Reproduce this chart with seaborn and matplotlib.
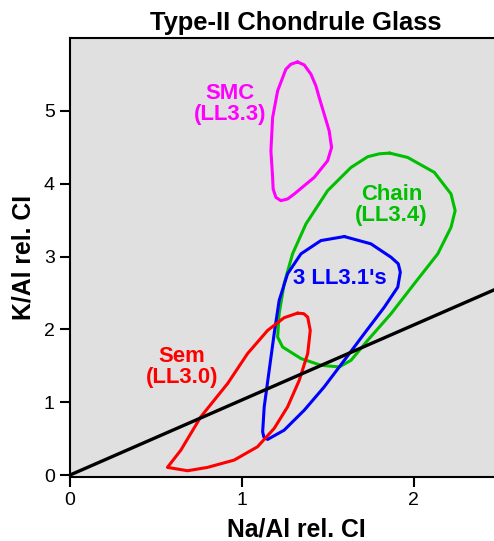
import matplotlib
matplotlib.use("Agg")
import matplotlib.pyplot as plt
import pandas as pd
import seaborn as sns

# --------------------------------------------------------------------------- #
# Data
# --------------------------------------------------------------------------- #
smc_x = [1.324, 1.363, 1.402, 1.431, 1.450, 1.479, 1.508, 1.522, 1.499, 1.421,
         1.305, 1.266, 1.227, 1.198, 1.182, 1.179, 1.169, 1.179, 1.208, 1.256,
         1.285, 1.324]
smc_y = [5.671, 5.630, 5.503, 5.342, 5.182, 4.955, 4.726, 4.497, 4.315, 4.086,
         3.859, 3.790, 3.767, 3.812, 3.927, 4.086, 4.452, 4.908, 5.274, 5.571,
         5.640, 5.671]

chain_x = [1.860, 1.965, 2.120, 2.217, 2.241, 2.217, 2.140, 2.003, 1.868, 1.732,
           1.635, 1.567, 1.460, 1.344, 1.237, 1.208, 1.217, 1.246, 1.295, 1.373,
           1.499, 1.635, 1.732, 1.800, 1.860]
chain_y = [4.420, 4.360, 4.155, 3.859, 3.630, 3.401, 3.037, 2.626, 2.215, 1.849,
           1.575, 1.484, 1.507, 1.599, 1.758, 1.895, 2.215, 2.626, 3.037, 3.448,
           3.904, 4.223, 4.370, 4.410, 4.420]

ll31_x = [1.596, 1.751, 1.868, 1.910, 1.922, 1.907, 1.829, 1.712, 1.596, 1.479,
          1.363, 1.246, 1.150, 1.128, 1.121, 1.130, 1.159, 1.188, 1.217, 1.266,
          1.344, 1.460, 1.596]
ll31_y = [3.274, 3.174, 2.990, 2.900, 2.785, 2.579, 2.305, 1.941, 1.575, 1.210,
          0.890, 0.616, 0.489, 0.520, 0.593, 0.936, 1.438, 1.941, 2.397, 2.763,
          3.037, 3.219, 3.274]

sem_x = [1.324, 1.360, 1.383, 1.398, 1.383, 1.334, 1.266, 1.188, 1.091, 0.955,
         0.800, 0.684, 0.567, 0.645, 0.761, 0.917, 1.033, 1.150, 1.246, 1.324]
sem_y = [2.223, 2.215, 2.168, 1.986, 1.667, 1.301, 0.936, 0.640, 0.388, 0.205,
         0.105, 0.059, 0.105, 0.342, 0.799, 1.256, 1.667, 1.986, 2.160, 2.223]

# reference line through the origin
ref_x = [0.0, 2.65]
ref_y = [0.0, 2.73]

groups = ["SMC\n(LL3.3)", "Chain\n(LL3.4)", "3 LL3.1's", "Sem\n(LL3.0)"]
label_x = [0.93, 1.871, 1.570, 0.650]
label_y = [5.09, 3.71, 2.695, 1.49]
colors = ["#ff00ff", "#00bf00", "#0000ff", "#ff0000"]

# --------------------------------------------------------------------------- #
# Style
# --------------------------------------------------------------------------- #
sns.set_theme(style="ticks")
plt.rcParams.update(
    {
        "font.family": ["Liberation Sans", "DejaVu Sans"],
        "text.color": "black",
        "axes.labelcolor": "black",
        "axes.titlecolor": "black",
        "axes.linewidth": 1.5,
        "xtick.major.width": 1.5,
        "ytick.major.width": 1.5,
        "xtick.major.size": 7.5,
        "ytick.major.size": 7.5,
        "xtick.labelsize": 14,
        "ytick.labelsize": 14,
        "xtick.color": "black",
        "ytick.color": "black",
        "axes.edgecolor": "black",
    }
)

fig = plt.figure(figsize=(4.94, 5.41), dpi=100)
ax = fig.add_axes([70 / 494, 1 - 477 / 541, 452 / 494, 439 / 541])
ax.set_facecolor("#e0e0e0")

contours = [(smc_x, smc_y), (chain_x, chain_y), (ll31_x, ll31_y), (sem_x, sem_y)]
for (cx, cy), col in zip(contours, colors):
    df = pd.DataFrame({"x": cx, "y": cy})
    sns.lineplot(data=df, x="x", y="y", sort=False, estimator=None, color=col,
                 lw=2.2, ax=ax, solid_joinstyle="round", solid_capstyle="round")

sns.lineplot(x=ref_x, y=ref_y, color="black", lw=2.4, ax=ax)

for name, lx, ly, col in zip(groups, label_x, label_y, colors):
    ax.text(lx, ly, name, color=col, fontsize=15.9, fontweight="bold",
            ha="center", va="center", linespacing=1.0)

ax.set_xlim(0, 2.63)
ax.set_ylim(-0.027, 6.0)
ax.set_xticks([0, 1, 2])
ax.set_yticks([0, 1, 2, 3, 4, 5])
ax.spines["right"].set_visible(False)
ax.set_xlabel("Na/Al rel. CI", fontsize=17.8, fontweight="bold", labelpad=6)
ax.set_ylabel("K/Al rel. CI", fontsize=17.8, fontweight="bold", labelpad=6)
ax.set_title("Type-II Chondrule Glass", fontsize=18.4, fontweight="bold", pad=6)

fig.savefig("out.png", dpi=100)
